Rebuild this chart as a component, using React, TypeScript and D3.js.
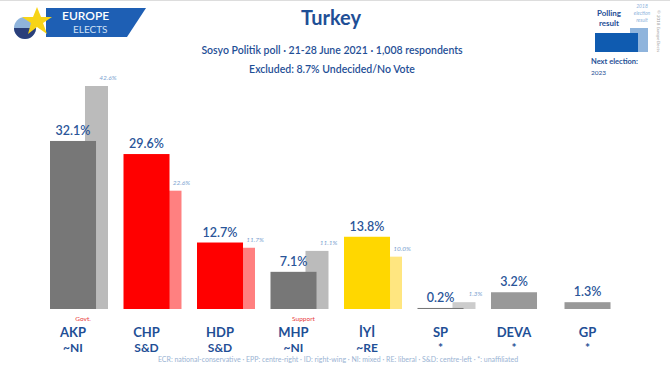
import React from "react";
import * as d3 from "d3";

const parties = ["AKP", "CHP", "HDP", "MHP", "İYİ", "SP", "DEVA", "GP"];
const groups = ["~NI", "S&D", "S&D", "~NI", "~RE", "*", "*", "*"];
const poll = [32.1, 29.6, 12.7, 7.1, 13.8, 0.2, 3.2, 1.3];
const prev: (number | null)[] = [42.6, 22.6, 11.7, 11.1, 10.0, 1.3, null, null];
const mainColors = ["#777777", "#ff0000", "#ff0000", "#777777", "#ffd700", "#777777", "#999999", "#999999"];
const prevColors = ["#bbbbbb", "#ff8080", "#ff8080", "#bbbbbb", "#ffe680", "#cccccc", "#cccccc", "#cccccc"];
const notes = ["Govt.", "", "", "Support", "", "", "", ""];

const W = 670;
const H = 377;
const FONT = "Lato, 'Open Sans', sans-serif";
const BLUE = "#1f4f96";

export default function App() {
  const x = d3.scaleBand<string>().domain(parties).range([50, 50 + 8 * 73.5]).paddingInner(0).paddingOuter(0);
  const y = d3.scaleLinear().domain([0, 42.6]).range([309, 86]);
  const bw = x.bandwidth() * 0.626;
  const pOff = x.bandwidth() * 0.476;
  const pw = x.bandwidth() * 0.313;
  const fmt = (v: number) => v.toFixed(1) + "%";

  return (
    <svg width={W} height={H} style={{ position: "absolute", left: 0, top: 0, background: "#fff" }} fontFamily={FONT}>
      <rect x={0} y={0} width={W} height={H} fill="#fff" />
      <line x1={0} x2={W} y1={0.5} y2={0.5} stroke="#ddd" />
      {/* Logo */}
      <g>
        <polygon points="46,8 146,8 127,37 46,37" fill="#1e5fb4" />
        <circle cx={25} cy={28} r={11} fill="#8fb4dc" />
        <path d="M14,28 A11,11 0 0 0 36,28 Z" fill="#2a3f7a" />
        <polygon points="37,7 41,17 52,17 43,23 47,34 37,27 28,34 31,23 22,17 33,17" fill="#f7d417" />
        <text x={62} y={20} fill="#fff" fontSize={12} fontWeight={600}>EUROPE</text>
        <text x={73} y={33} fill="#cfe0f5" fontSize={10}>ELECTS</text>
      </g>
      {/* Titles */}
      <text x={331} y={25} textAnchor="middle" fill={BLUE} fontSize={20} fontWeight={700}>Turkey</text>
      <text x={332} y={54} textAnchor="middle" fill={BLUE} fontSize={10.5} fontWeight={600}>Sosyo Politik poll · 21-28 June 2021 · 1,008 respondents</text>
      <text x={332} y={73} textAnchor="middle" fill={BLUE} fontSize={10.5} fontWeight={600}>Excluded: 8.7% Undecided/No Vote</text>
      {/* Legend */}
      <g>
        <rect x={630} y={28} width={18} height={24} fill="#8fb4dc" />
        <rect x={595} y={33} width={43} height={19} fill="#0f5bb0" />
        <text x={609} y={16} textAnchor="middle" fill={BLUE} fontSize={8} fontWeight={700}>Polling</text>
        <text x={609} y={26} textAnchor="middle" fill={BLUE} fontSize={8} fontWeight={700}>result</text>
        <text x={642} y={8} textAnchor="middle" fill="#8fb4dc" fontSize={5} fontStyle="italic">2018</text>
        <text x={642} y={15} textAnchor="middle" fill="#8fb4dc" fontSize={5} fontStyle="italic">election</text>
        <text x={642} y={22} textAnchor="middle" fill="#8fb4dc" fontSize={5} fontStyle="italic">result</text>
        <text x={591} y={64} fill={BLUE} fontSize={7.5} fontWeight={700}>Next election:</text>
        <text x={591} y={75} fill={BLUE} fontSize={6.5}>2023</text>
        <text transform="translate(657,10) rotate(90)" fill="#999" fontSize={4.5}>© 2018 EuropeElects</text>
      </g>
      {/* Bars */}
      {parties.map((p, i) => {
        const x0 = x(p)!;
        const pv = prev[i];
        return (
          <g key={p}>
            {pv !== null && (
              <>
                <rect x={x0 + pOff} y={y(pv)} width={pw} height={y(0) - y(pv)} fill={prevColors[i]} />
                <text x={x0 + pOff + pw} y={y(pv) - 6} textAnchor="middle" fill="#7a9fd0" fontSize={6.5} fontStyle="italic">{fmt(pv)}</text>
              </>
            )}
            <rect x={x0} y={y(poll[i])} width={bw} height={Math.max(1, y(0) - y(poll[i]))} fill={mainColors[i]} />
            <text x={x0 + bw / 2} y={y(poll[i]) - 6} textAnchor="middle" fill="#2a5599" fontSize={12.5} fontWeight={600}>{fmt(poll[i])}</text>
            {notes[i] && (
              <text x={x0 + 33} y={321} textAnchor="middle" fill="#e83a3a" fontSize={6.5}>{notes[i]}</text>
            )}
            <text x={x0 + bw / 2} y={337} textAnchor="middle" fill={BLUE} fontSize={13} fontWeight={700}>{p}</text>
            <text x={x0 + bw / 2} y={352} textAnchor="middle" fill={BLUE} fontSize={12} fontWeight={700}>{groups[i]}</text>
          </g>
        );
      })}
      <text x={338} y={362} textAnchor="middle" fill="#9ab3d3" fontSize={7}>ECR: national-conservative · EPP: centre-right · ID: right-wing · NI: mixed · RE: liberal · S&amp;D: centre-left · *: unaffiliated</text>
    </svg>
  );
}
